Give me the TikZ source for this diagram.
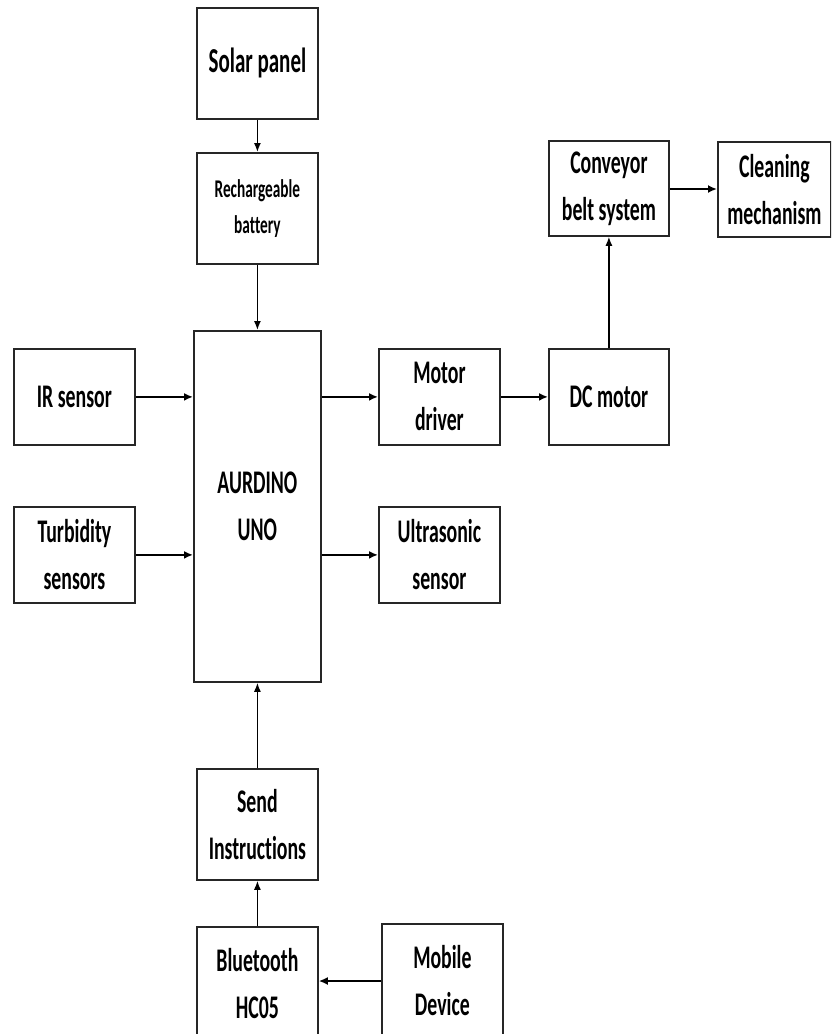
\documentclass[tikz,border=0pt]{standalone}
\usepackage{fontspec}
\setmainfont{Carlito}[FakeStretch=0.6,Ligatures=NoCommon]
\usetikzlibrary{arrows.meta}
\tikzset{
  box/.style={draw=black!85, line width=1.8pt, anchor=north west, align=center, inner sep=0pt,
    font=\bfseries\fontsize{33}{47}\selectfont},
  harr/.style={line width=2.2pt, -{Latex[length=9pt,width=8pt]}},
  varr/.style={line width=1.4pt, -{Latex[length=9pt,width=7pt]}}
}
\begin{document}
\begin{tikzpicture}[x=1pt,y=-1pt]
\useasboundingbox (0,0) rectangle (831,1034);
\clip (0,0) rectangle (831,1034);
\node[box, minimum width=121pt, minimum height=111pt, font=\bfseries\fontsize{35}{47}\selectfont] (solar) at (196,7) {Solar panel};
\node[box, minimum width=121pt, minimum height=111pt, font=\bfseries\fontsize{25.5}{36}\selectfont] (bat) at (196,152) {Rechargeable\\battery};
\node[box, minimum width=127pt, minimum height=351pt] (ard) at (193,330) {AURDINO\\UNO};
\node[box, minimum width=121pt, minimum height=96pt] (ir) at (13,348) {IR sensor};
\node[box, minimum width=121pt, minimum height=96pt] (turb) at (13,506) {Turbidity\\sensors};
\node[box, minimum width=121pt, minimum height=96pt] (mot) at (378,348) {Motor\\driver};
\node[box, minimum width=121pt, minimum height=96pt] (ultra) at (378,506) {Ultrasonic\\sensor};
\node[box, minimum width=120pt, minimum height=96pt] (dc) at (548,348) {DC motor};
\node[box, minimum width=120pt, minimum height=95pt] (conv) at (548,140) {Conveyor\\belt system};
\node[box, minimum width=113pt, minimum height=95pt] (clean) at (717,141) {Cleaning\\mechanism};
\node[box, minimum width=121pt, minimum height=111pt] (send) at (196,768) {Send\\Instructions};
\node[box, minimum width=121pt, minimum height=114pt] (bt) at (196,926) {Bluetooth\\HC05};
\node[box, minimum width=121pt, minimum height=114pt] (mob) at (381,923) {Mobile\\Device};

\draw[varr] (solar) -- (solar |- bat.north);
\draw[varr] (bat) -- (bat |- ard.north);
\draw[harr] (ir) -- (ir -| ard.west);
\draw[harr] (turb) -- (turb -| ard.west);
\draw[harr] (ard.east |- mot.west) -- (mot.west);
\draw[harr] (ard.east |- ultra.west) -- (ultra.west);
\draw[harr] (mot) -- (dc);
\draw[varr] (dc) -- (conv);
\draw[harr] (conv.east |- 0,189) -- (clean.west |- 0,189);
\draw[varr] (send) -- (send |- ard.south);
\draw[varr] (bt) -- (send);
\draw[harr] (mob.west |- 0,981) -- (bt.east |- 0,981);
\end{tikzpicture}
\end{document}
